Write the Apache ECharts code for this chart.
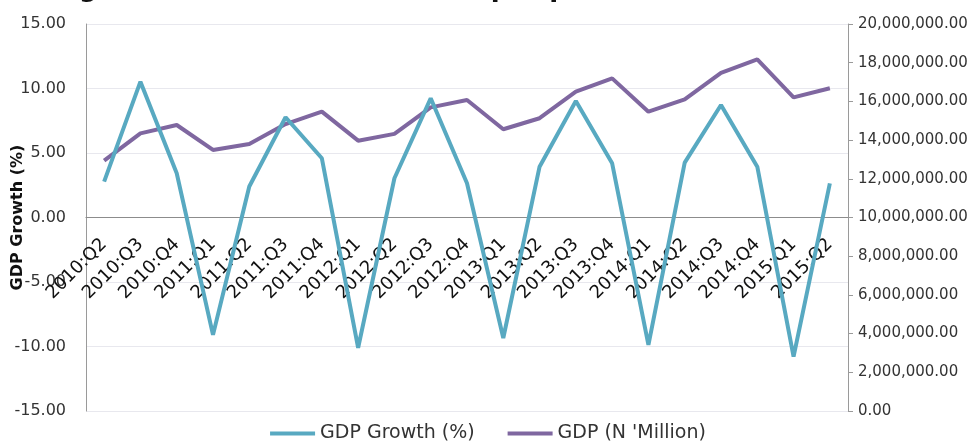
<!DOCTYPE html>
<html>
<head>
<meta charset="utf-8">
<script src="https://cdn.jsdelivr.net/npm/echarts@6/dist/echarts.min.js"></script>
<style>html,body{margin:0;padding:0;background:#fff}#c{width:976px;height:447px}</style>
</head>
<body>
<div id="c"></div>
<script>
const categories = ["2010:Q2","2010:Q3","2010:Q4","2011:Q1","2011:Q2","2011:Q3","2011:Q4","2012:Q1","2012:Q2","2012:Q3","2012:Q4","2013:Q1","2013:Q2","2013:Q3","2013:Q4","2014:Q1","2014:Q2","2014:Q3","2014:Q4","2015:Q1","2015:Q2"];
const gdpGrowth = [2.78, 10.53, 3.43, -9.10, 2.40, 7.77, 4.59, -10.10, 3.04, 9.24, 2.65, -9.34, 3.94, 9.03, 4.20, -9.88, 4.25, 8.72, 3.94, -10.79, 2.65];
const gdpMillion = [12940000, 14350000, 14780000, 13490000, 13800000, 14830000, 15470000, 13970000, 14320000, 15690000, 16070000, 14560000, 15130000, 16500000, 17190000, 15470000, 16110000, 17480000, 18170000, 16210000, 16680000];
const seriesNames = ["GDP Growth (%)", "GDP (N 'Million)"];
const titleText = "Nigeria's GDP Growth and Output per Quarter (2010 - 2015)";

const FONT = "DejaVu Sans";
const chart = echarts.init(document.getElementById('c'), null, {renderer: 'canvas'});
chart.setOption({
  animation: false,
  backgroundColor: '#fff',
  textStyle: {fontFamily: FONT},
  title: {
    text: titleText, left: 'center', top: -29,
    textStyle: {fontFamily: FONT, fontSize: 26, fontWeight: 'bold', color: '#111'}
  },
  grid: {left: 86, right: 128, top: 24, bottom: 36, containLabel: false, outerBoundsMode: 'none'},
  legend: {
    bottom: -1, left: 'center', itemWidth: 45, itemHeight: 4, itemGap: 33,
    icon: 'rect',
    textStyle: {fontFamily: FONT, fontSize: 19, color: '#333'},
    data: seriesNames
  },
  xAxis: {
    type: 'category', data: categories, boundaryGap: true, position: 'bottom',
    offset: -193.5,
    axisLine: {onZero: false, lineStyle: {color: '#8c8c8c', width: 1.2}},
    axisTick: {show: false},
    axisLabel: {interval: 0, rotate: 45, margin: 24, fontFamily: FONT, fontSize: 18, color: '#111'}
  },
  yAxis: [
    {
      type: 'value', min: -15, max: 15, interval: 5, position: 'left',
      name: 'GDP Growth (%)', nameLocation: 'middle', nameGap: 60, nameMoveOverlap: false,
      nameTextStyle: {fontFamily: FONT, fontSize: 16, fontWeight: 'bold', color: '#111'},
      axisLine: {show: true, lineStyle: {color: '#9a9a9a'}},
      axisTick: {show: false},
      axisLabel: {fontFamily: FONT, fontSize: 16, color: '#333', margin: 20,
        formatter: v => v.toFixed(2)},
      splitLine: {show: true, lineStyle: {color: '#e8e8ee'}}
    },
    {
      type: 'value', min: 0, max: 20000000, interval: 2000000, position: 'right',
      axisLine: {show: true, lineStyle: {color: '#9a9a9a'}},
      axisTick: {show: true, length: 5, lineStyle: {color: '#9a9a9a'}},
      axisLabel: {fontFamily: FONT, fontSize: 15, color: '#333', margin: 10,
        formatter: v => v.toLocaleString('en-US', {minimumFractionDigits: 2, maximumFractionDigits: 2})},
      splitLine: {show: false}
    }
  ],
  series: [
    {
      name: seriesNames[0], type: 'line', yAxisIndex: 0, data: gdpGrowth,
      showSymbol: false, symbol: 'none',
      lineStyle: {color: '#58a9c1', width: 4}, itemStyle: {color: '#58a9c1'}, z: 3
    },
    {
      name: seriesNames[1], type: 'line', yAxisIndex: 1, data: gdpMillion,
      showSymbol: false, symbol: 'none',
      lineStyle: {color: '#7f67a0', width: 4}, itemStyle: {color: '#7f67a0'}, z: 2
    }
  ]
});
</script>
</body>
</html>
